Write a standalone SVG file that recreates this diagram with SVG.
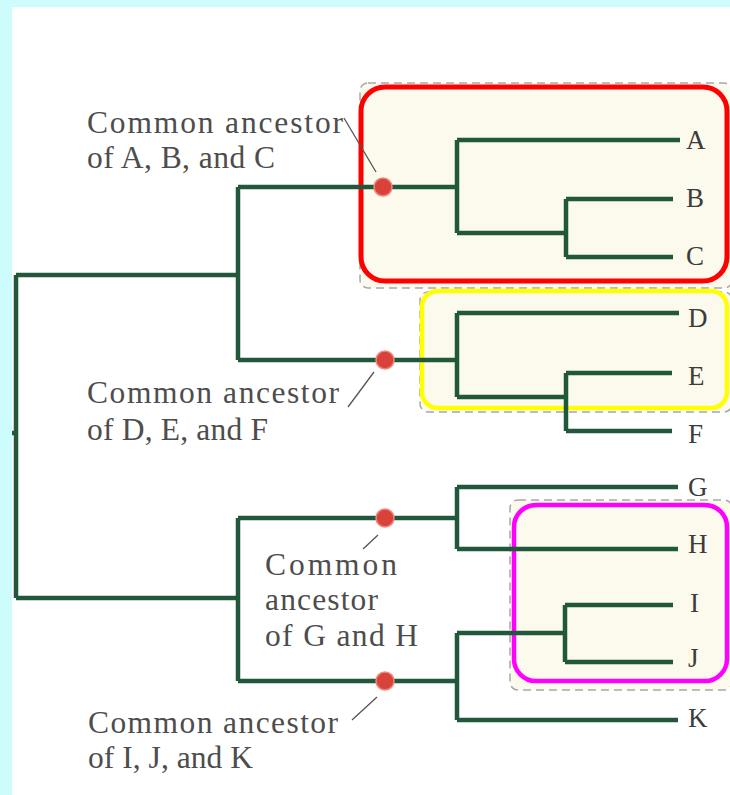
<svg xmlns="http://www.w3.org/2000/svg" width="730" height="795" viewBox="0 0 730 795">
<style>
.br{fill:none;stroke:#21573a;stroke-width:4.5;stroke-linecap:butt;stroke-linejoin:miter}
.dash{fill:#fbfaec;stroke:#a8a8a8;stroke-width:1.5;stroke-dasharray:8 5}
.lbl{font-family:"Liberation Serif",serif;font-size:31.5px;fill:#4d4d4d}
.leaf{font-family:"Liberation Serif",serif;font-size:27px;fill:#3c3c3c}
.lead{stroke:#555;stroke-width:1.3;fill:none}
.dot{fill:#d8423a;stroke:#ec8a80;stroke-width:1.5}
</style>
<rect x="0" y="0" width="730" height="795" fill="#ccfcfc"/>
<rect x="12" y="7" width="718" height="788" fill="#ffffff"/>
<g id="highlights">
<rect class="dash" x="360" y="83" width="372" height="205" rx="8"/>
<rect class="dash" x="420" y="292" width="312" height="120" rx="8"/>
<rect class="dash" x="510" y="500" width="222" height="190" rx="8"/>
<rect x="361" y="87" width="366" height="194" rx="24" fill="none" stroke="#ff0000" stroke-width="5"/>
<rect x="422" y="291" width="305" height="117" rx="16" fill="none" stroke="#ffff00" stroke-width="4.5"/>
<rect x="514" y="505" width="213" height="176" rx="22" fill="none" stroke="#ff00ff" stroke-width="4.5"/>
</g>
<g id="connectors">
<path class="br" d="M12,433 H16 M16,275 V598 M16,275 H238 M16,598 H238"/>
<path class="br" d="M238,187 V360 M238,187 H457 M238,360 H457"/>
<path class="br" d="M457,140 V233 M457,140 H680 M457,233 H566 M566,199 V257 M566,199 H673 M566,257 H673"/>
<path class="br" d="M457,313 V397 M457,313 H679 M457,397 H566 M566,373 V431 M566,373 H672 M566,431 H672"/>
<path class="br" d="M238,518 V681 M238,518 H457 M238,681 H457"/>
<path class="br" d="M457,487 V549 M457,487 H678 M457,549 H678"/>
<path class="br" d="M457,633 V720 M457,633 H565 M565,605 V662 M565,605 H673 M565,662 H673 M457,720 H678"/>
<path class="lead" d="M344,118 L376,172 M348,407 L374,372 M363,549 L378,535 M352,720 L377,697"/>
</g>
<g id="node-abc">
<circle class="dot" cx="383" cy="187" r="9"/>
<text class="lbl" x="87" y="133" textLength="256" lengthAdjust="spacing">Common ancestor</text>
<text class="lbl" x="87" y="168" textLength="188" lengthAdjust="spacing">of A, B, and C</text>
</g>
<g id="node-def">
<circle class="dot" cx="385" cy="360" r="9"/>
<text class="lbl" x="87" y="403" textLength="252" lengthAdjust="spacing">Common ancestor</text>
<text class="lbl" x="87" y="440" textLength="181" lengthAdjust="spacing">of D, E, and F</text>
</g>
<g id="node-gh">
<circle class="dot" cx="385" cy="518" r="9"/>
<text class="lbl" x="265" y="575" textLength="132" lengthAdjust="spacing">Common</text>
<text class="lbl" x="265" y="610" textLength="113" lengthAdjust="spacing">ancestor</text>
<text class="lbl" x="265" y="646" textLength="153" lengthAdjust="spacing">of G and H</text>
</g>
<g id="node-ijk">
<circle class="dot" cx="385" cy="681" r="9"/>
<text class="lbl" x="88" y="733" textLength="250" lengthAdjust="spacing">Common ancestor</text>
<text class="lbl" x="88" y="768" textLength="165" lengthAdjust="spacing">of I, J, and K</text>
</g>
<g id="leaves">
<text class="leaf" x="686" y="149">A</text>
<text class="leaf" x="686" y="207">B</text>
<text class="leaf" x="686" y="265">C</text>
<text class="leaf" x="688" y="327">D</text>
<text class="leaf" x="688" y="385">E</text>
<text class="leaf" x="688" y="443">F</text>
<text class="leaf" x="688" y="496">G</text>
<text class="leaf" x="688" y="553">H</text>
<text class="leaf" x="690" y="612">I</text>
<text class="leaf" x="688" y="667">J</text>
<text class="leaf" x="688" y="727">K</text>
</g>
</svg>
